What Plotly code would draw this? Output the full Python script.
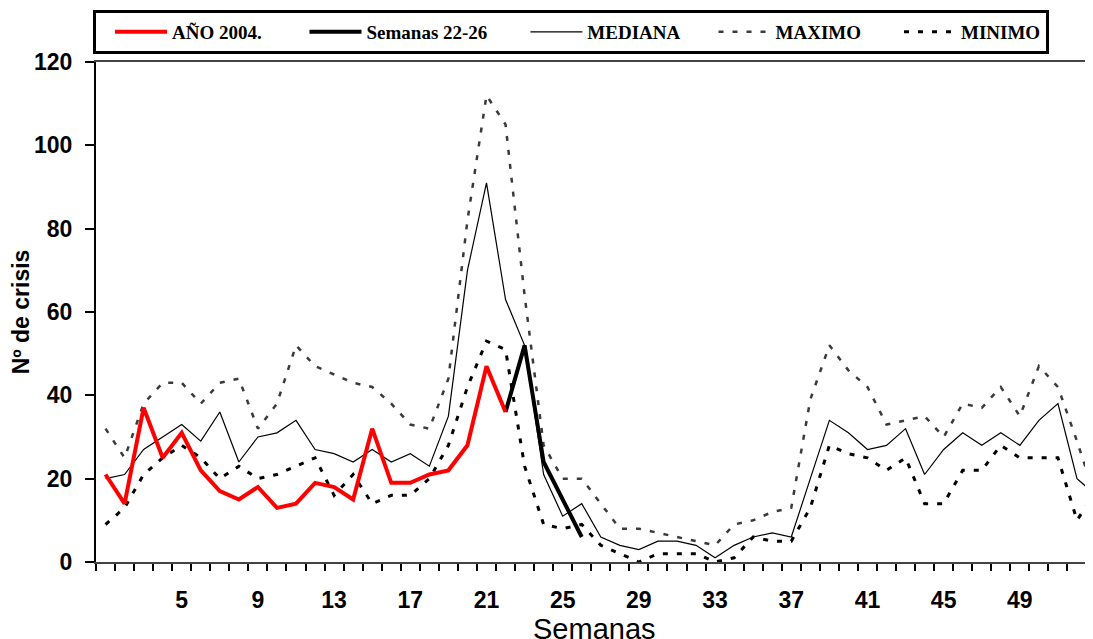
import plotly.graph_objects as go

# semanas epidemiologicas
semanas = list(range(1, 54))

# datos
anio_2004 = [21, 14, 37, 25, 31, 22, 17, 15, 18, 13, 14, 19, 18, 15, 32, 19, 19, 21, 22, 28, 47, 36]
semanas_22_26 = [36, 52, 24, 15, 6]

mediana = [20, 21, 27, 30, 33, 29, 36, 24, 30, 31, 34, 27, 26, 24, 27, 24, 26, 23, 35, 70,
           91, 63, 52, 21, 11, 14, 6, 4, 3, 5, 5, 4, 1, 4, 6, 7, 6, 20, 34, 31,
           27, 28, 32, 21, 27, 31, 28, 31, 28, 34, 38, 20, 16]
maximo = [32, 25, 38, 43, 43, 38, 43, 44, 32, 38, 52, 47, 45, 43, 42, 38, 33, 32, 44, 82,
          112, 105, 64, 28, 20, 20, 14, 8, 8, 7, 6, 5, 4, 9, 10, 12, 13, 39, 52, 46,
          42, 33, 34, 35, 30, 38, 37, 42, 35, 47, 42, 29, 15]
minimo = [9, 13, 21, 25, 28, 25, 20, 23, 20, 21, 23, 25, 16, 21, 14, 16, 16, 20, 28, 42,
          53, 51, 23, 9, 8, 9, 4, 2, 0, 2, 2, 2, 0, 1, 6, 5, 5, 13, 28, 26,
          25, 22, 25, 14, 14, 22, 22, 28, 25, 25, 25, 10, 17]

etiquetas_x = [5, 9, 13, 17, 21, 25, 29, 33, 37, 41, 45, 49]

# espacio tras cada nombre de la leyenda
nb = "\u00a0"

fig = go.Figure()

fig.add_trace(go.Scatter(
    x=semanas, y=maximo, mode="lines", name="MAXIMO" + nb * 4, legendrank=4,
    line=dict(color="#3a3a3a", width=2.5, dash="5px,9px"),
))
fig.add_trace(go.Scatter(
    x=semanas, y=minimo, mode="lines", name="MINIMO", legendrank=5,
    line=dict(color="black", width=3, dash="5px,9px"),
))
fig.add_trace(go.Scatter(
    x=semanas, y=mediana, mode="lines", name="MEDIANA" + nb * 3, legendrank=3,
    line=dict(color="black", width=1.2),
))
fig.add_trace(go.Scatter(
    x=semanas[21:26], y=semanas_22_26, mode="lines", name="Semanas 22-26" + nb * 4, legendrank=2,
    line=dict(color="black", width=4),
))
fig.add_trace(go.Scatter(
    x=semanas[:22], y=anio_2004, mode="lines", name="AÑO 2004." + nb * 5, legendrank=1,
    line=dict(color="#ff0000", width=4),
))

# la pagina deja 8px de margen en el body
fig.update_layout(
    width=1085, height=631,
    margin=dict(l=88, r=0, t=54, b=77, autoexpand=False),
    plot_bgcolor="white", paper_bgcolor="white",
    font=dict(family="Liberation Sans", color="black"),
    showlegend=True,
    legend=dict(
        orientation="h", x=-0.003, xanchor="left", y=1.104, yanchor="top",
        bgcolor="white", bordercolor="black", borderwidth=3,
        font=dict(family="Liberation Serif", size=19, color="black", weight="bold"),
        itemwidth=52, indentation=14,
    ),
)

fig.update_xaxes(
    range=[0.5, 52.84], tickmode="array", tickvals=etiquetas_x,
    ticktext=[str(v) for v in etiquetas_x], ticks="", ticklabelstandoff=16,
    tickfont=dict(size=23, weight="bold"), automargin=False,
    minor=dict(ticks="outside", tick0=0.5, dtick=1, ticklen=7, tickwidth=1.5, tickcolor="black"),
    showline=True, linecolor="#444444", linewidth=2, mirror=True,
    showgrid=False, zeroline=False,
)
fig.update_yaxes(
    range=[0, 120], tickvals=[0, 20, 40, 60, 80, 100, 120],
    ticks="outside", ticklen=9, tickwidth=1.5, tickcolor="black", ticklabelstandoff=8,
    tickfont=dict(size=23, weight="bold"), automargin=False,
    showline=True, linecolor="black", linewidth=2,
    showgrid=False, zeroline=False,
    title=dict(text="Nº de crisis", font=dict(size=23, weight="bold"), standoff=0),
)

# titulo del eje x
fig.add_annotation(
    text="Semanas", xref="paper", yref="paper", x=0.5, y=-0.133,
    xanchor="center", yanchor="middle", showarrow=False,
    font=dict(size=29, color="black"),
)

fig.write_html("out.html")
